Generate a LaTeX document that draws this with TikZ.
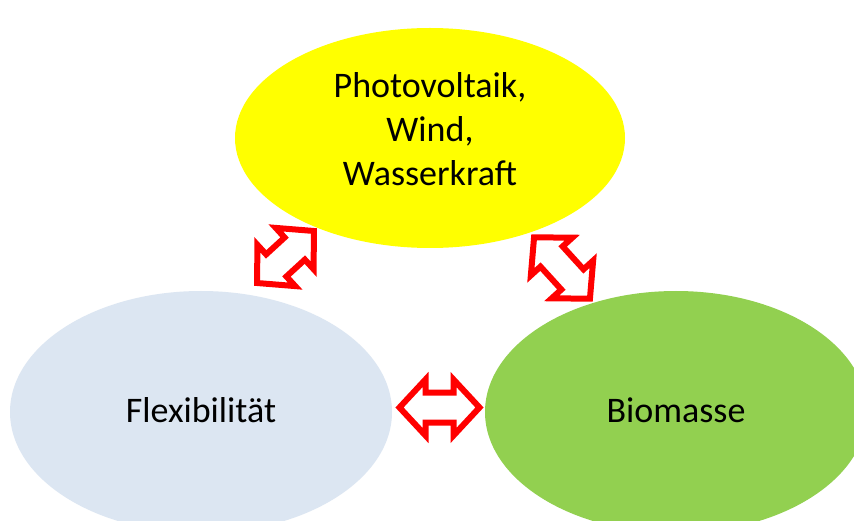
\documentclass[tikz,border=0pt]{standalone}
\usepackage{fontspec}
\setmainfont{Carlito}
\definecolor{sunyellow}{HTML}{FFFF00}
\definecolor{paleblue}{HTML}{DCE6F2}
\definecolor{leafgreen}{HTML}{92D050}
\tikzset{
  blob/.style={inner sep=0pt, font=\fontsize{36}{44}\selectfont, align=center, text=black},
  arrowline/.style={draw=red, line width=6pt, fill=white},
  pics/dblarrow/.style={code={
    \coordinate (-c) at (0,0);
    \draw[arrowline] (-#1/2,0) -- (-#1/2+26,28) -- (-#1/2+26,15) -- (#1/2-26,15)
      -- (#1/2-26,28) -- (#1/2,0) -- (#1/2-26,-28) -- (#1/2-26,-15)
      -- (-#1/2+26,-15) -- (-#1/2+26,-28) -- cycle;
  }}
}
\begin{document}
\begin{tikzpicture}[x=1pt,y=-1pt]
\clip (0,0) rectangle (854,521);
\fill[white] (0,0) rectangle (854,521);
\fill[sunyellow] (430,138) ellipse [x radius=195, y radius=110];
\fill[paleblue] (201,412) ellipse [x radius=191, y radius=121];
\fill[leafgreen] (676,412) ellipse [x radius=191, y radius=121];
\node[blob] (pv) at (430,129) {Photovoltaik,\\Wind,\\Wasserkraft};
\node[blob] (flex) at (201,410) {Flexibilität};
\node[blob] (bio) at (676,410) {Biomasse};
\pic (a1) at (439.5,407.5) {dblarrow=80};
\pic[rotate=42.5] (a2) at (285.5,257) {dblarrow=77};
\pic[rotate=-47.7] (a3) at (562,268) {dblarrow=83};
\end{tikzpicture}
\end{document}
